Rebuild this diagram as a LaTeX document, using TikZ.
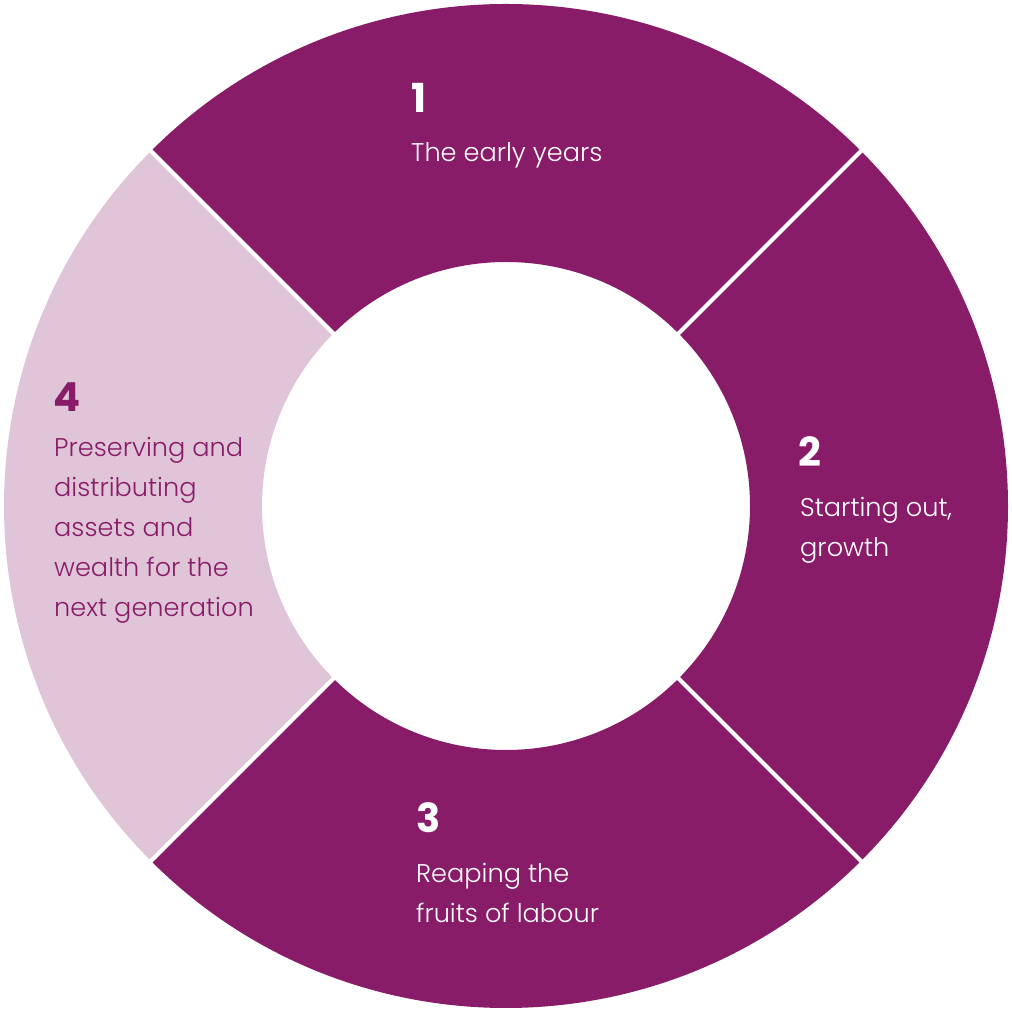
\documentclass[tikz,border=0pt]{standalone}
\usepackage{fontspec}
\setmainfont{Poppins}
\newfontfamily\lightfont{Poppins Light}
\definecolor{darkplum}{RGB}{137,28,105}
\definecolor{lightplum}{RGB}{224,197,216}
\begin{document}
\begin{tikzpicture}[x=1pt,y=1pt,
  numlabel/.style={anchor=base west,inner sep=0pt,font=\fontsize{40}{40}\selectfont\bfseries},
  txtlabel/.style={anchor=base west,inner sep=0pt,align=left,font=\lightfont\fontsize{25.6}{40}\selectfont},
  divider/.style={draw=white,line width=4pt}]
\useasboundingbox (0,0) rectangle (1012,1012);
\fill[white] (0,0) rectangle (1012,1012);
\begin{scope}[shift={(506,506)}]
  \fill[darkplum] (45:502) arc[start angle=45,end angle=135,radius=502] -- (135:244) arc[start angle=135,end angle=45,radius=244] -- cycle;
  \fill[darkplum] (-45:502) arc[start angle=-45,end angle=45,radius=502] -- (45:244) arc[start angle=45,end angle=-45,radius=244] -- cycle;
  \fill[darkplum] (-135:502) arc[start angle=-135,end angle=-45,radius=502] -- (-45:244) arc[start angle=-45,end angle=-135,radius=244] -- cycle;
  \fill[lightplum] (135:502) arc[start angle=135,end angle=225,radius=502] -- (225:244) arc[start angle=225,end angle=135,radius=244] -- cycle;
  \coordinate (d1a) at (45:240); \coordinate (d1b) at (45:506);
  \coordinate (d2a) at (135:240); \coordinate (d2b) at (135:506);
  \coordinate (d3a) at (225:240); \coordinate (d3b) at (225:506);
  \coordinate (d4a) at (315:240); \coordinate (d4b) at (315:506);
  \draw[divider] (d1a) -- (d1b);
  \draw[divider] (d2a) -- (d2b);
  \draw[divider] (d3a) -- (d3b);
  \draw[divider] (d4a) -- (d4b);
\end{scope}
\node[numlabel,text=white] (n1) at (411,899) {1};
\node[txtlabel,text=white] (t1) at (411,850) {The early years};
\node[numlabel,text=white] (n2) at (798,545) {2};
\node[txtlabel,text=white] (t2a) at (800,495) {Starting out,};
\node[txtlabel,text=white] (t2b) at (800,455) {growth};
\node[numlabel,text=white] (n3) at (416,179) {3};
\node[txtlabel,text=white] (t3a) at (416,129) {Reaping the};
\node[txtlabel,text=white] (t3b) at (416,89) {fruits of labour};
\node[numlabel,text=darkplum] (n4) at (53,600) {4};
\node[txtlabel,text=darkplum] (t4a) at (54,555) {Preserving and};
\node[txtlabel,text=darkplum] (t4b) at (54,515) {distributing};
\node[txtlabel,text=darkplum] (t4c) at (54,475) {assets and};
\node[txtlabel,text=darkplum] (t4d) at (54,435) {wealth for the};
\node[txtlabel,text=darkplum] (t4e) at (54,395) {next generation};
\end{tikzpicture}
\end{document}
